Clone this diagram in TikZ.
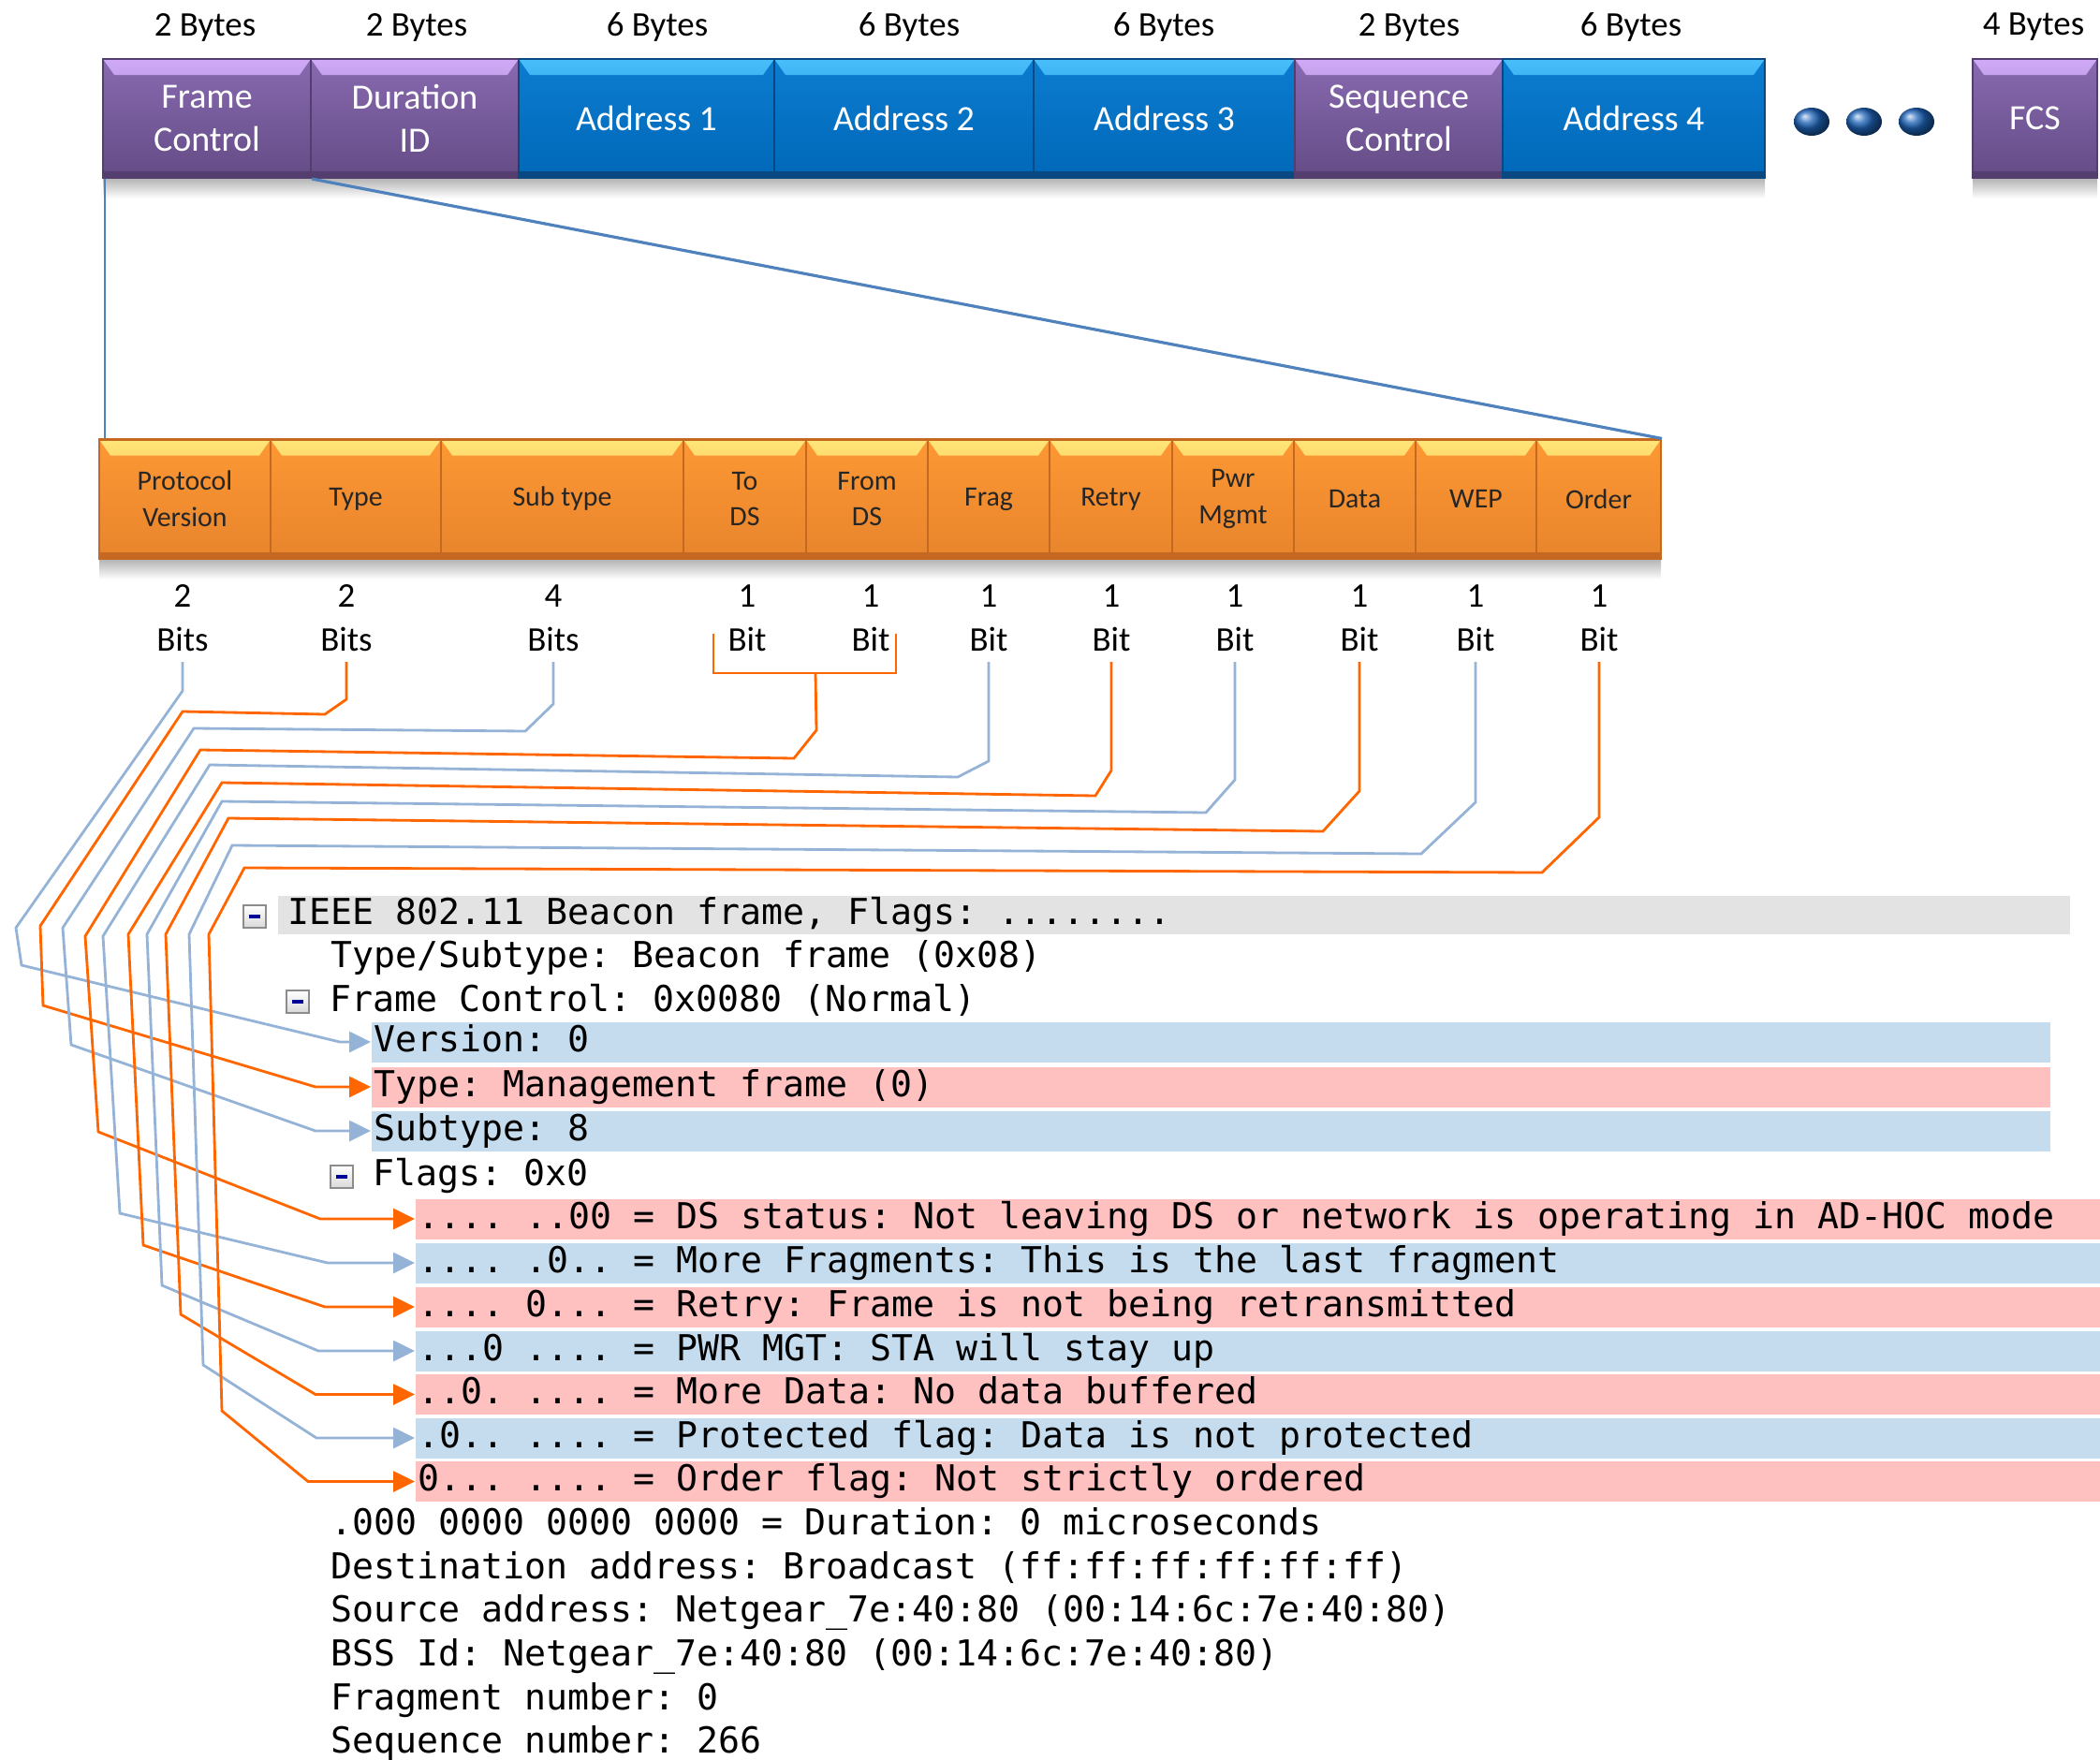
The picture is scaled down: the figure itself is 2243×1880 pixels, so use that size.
\documentclass[tikz,border=0pt]{standalone}
\usepackage{fontspec}
\setmainfont{Carlito}
\newfontfamily\wsmono{DejaVu Sans Mono}
\usepackage{tikz}
\usetikzlibrary{arrows.meta}
\usepackage{xcolor}
\definecolor{violaA}{RGB}{136,106,176}
\definecolor{violaB}{RGB}{100,76,134}
\definecolor{violaL}{RGB}{208,170,246}
\definecolor{violaD}{RGB}{84,62,112}
\definecolor{bluA}{RGB}{12,124,208}
\definecolor{bluB}{RGB}{0,104,184}
\definecolor{bluL}{RGB}{72,190,250}
\definecolor{bluD}{RGB}{10,72,130}
\definecolor{aranA}{RGB}{253,152,52}
\definecolor{aranB}{RGB}{232,132,44}
\definecolor{aranL}{RGB}{255,230,120}
\definecolor{aranD}{RGB}{196,104,34}
\definecolor{lineaBlu}{RGB}{149,179,215}
\definecolor{lineaAra}{RGB}{255,102,0}
\definecolor{lineaTop}{RGB}{79,129,189}
\definecolor{rosa}{RGB}{255,192,192}
\definecolor{azzurro}{RGB}{197,220,238}
\definecolor{grigio}{RGB}{227,227,227}
\definecolor{pallino}{RGB}{30,100,185}
\newcommand{\wsfont}{\wsmono\fontsize{10.87}{13}\selectfont\frenchspacing}
\newcommand{\meno}[2]{
\draw[draw = black!45, top color = white, bottom color = black!15] (#1-12,#2-12) rectangle (#1+12,#2+12);
\draw[line width = 1.2pt, blue!60!black] (#1-6,#2) -- (#1+6,#2);
}

\begin{document}
\begin{tikzpicture}[x = 0.1mm, y = -0.1mm,
    campo/.style n args = {4}{draw = #4, line width = 0.6pt, inner sep = 0pt, minimum height = 12.7mm, align = center,
        top color = #1, bottom color = #2,
        path picture = {
            \shade[top color = #3, bottom color = #1] (path picture bounding box.north west) -- (path picture bounding box.north east)
                -- ([xshift = -1.2mm, yshift = -1.7mm]path picture bounding box.north east)
                -- ([xshift = 1.2mm, yshift = -1.7mm]path picture bounding box.north west) -- cycle;
            \fill[#4] (path picture bounding box.south west) rectangle ([yshift = 0.7mm]path picture bounding box.south east);
        }},
    viola/.style = {campo = {violaA}{violaB}{violaL}{violaD}, text = white, font = \fontsize{10.8}{13}\selectfont},
    blu/.style = {campo = {bluA}{bluB}{bluL}{bluD}, text = white, font = \fontsize{10.8}{13}\selectfont},
    arancio/.style = {campo = {aranA}{aranB}{aranL}{aranD}, text = black!85, font = \fontsize{8.5}{11}\selectfont},
    byte/.style = {inner sep = 0pt, font = \fontsize{10.5}{12}\selectfont},
    bit/.style = {inner sep = 0pt, align = center, font = \fontsize{10.5}{13.4}\selectfont},
    barra/.style = {anchor = west, inner sep = 0pt, minimum height = 4.3mm},
    testo/.style = {anchor = west, inner sep = 0pt, text height = 2.9mm, text depth = 0.9mm, font = \wsfont},
    lblu/.style = {draw = lineaBlu, line width = 0.8pt},
    lara/.style = {draw = lineaAra, line width = 0.8pt},
    punta/.style = {-{Triangle[length = 2.3mm, width = 2.2mm]}}]
    % Parametri
    \pgfmathsetmacro{\yB}{126.5}
    \pgfmathsetmacro{\yO}{533}
    \pgfmathsetmacro{\yb}{660}
    \useasboundingbox (0,0) rectangle (2243,1880);
    % Ombre
    \shade[top color = black!30, bottom color = white] (110,190) rectangle (1885,212);
    \shade[top color = black!30, bottom color = white] (2107,190) rectangle (2240,212);
    \shade[top color = black!30, bottom color = white] (106,597) rectangle (1774,619);
    % Frame MAC
    \node[byte] (by-fc) at (219,29){2 Bytes};
    \node[byte] (by-dur) at (445,29){2 Bytes};
    \node[byte] (by-a1) at (702,29){6 Bytes};
    \node[byte] (by-a2) at (971,29){6 Bytes};
    \node[byte] (by-a3) at (1243,29){6 Bytes};
    \node[byte] (by-sc) at (1505,29){2 Bytes};
    \node[byte] (by-a4) at (1742,29){6 Bytes};
    \node[byte] (by-fcs) at (2172,29){4 Bytes};
    \node[viola, minimum width = 22.2mm] (fc) at (221,\yB){Frame\\Control};
    \node[viola, minimum width = 22.2mm] (dur) at (443,\yB){Duration\\ID};
    \node[blu, minimum width = 27.3mm] (a1) at (690.5,\yB){Address 1};
    \node[blu, minimum width = 27.7mm] (a2) at (965.5,\yB){Address 2};
    \node[blu, minimum width = 27.9mm] (a3) at (1243.5,\yB){Address 3};
    \node[viola, minimum width = 22.2mm] (sc) at (1494,\yB){Sequence\\Control};
    \node[blu, minimum width = 28mm] (a4) at (1745,\yB){Address 4};
    \node[viola, minimum width = 13.3mm] (fcs) at (2173.5,\yB){FCS};
    \shade[ball color = pallino] (1935,130) ellipse [x radius = 1.9mm, y radius = 1.5mm];
    \shade[ball color = pallino] (1991,130) ellipse [x radius = 1.9mm, y radius = 1.5mm];
    \shade[ball color = pallino] (2047,130) ellipse [x radius = 1.9mm, y radius = 1.5mm];
    % Campo Frame Control
    \node[arancio, minimum width = 18.3mm] (pv) at (197.5,\yO){Protocol\\Version};
    \node[arancio, minimum width = 18.2mm] (type) at (380,\yO){Type};
    \node[arancio, minimum width = 25.9mm] (sub) at (600.5,\yO){Sub type};
    \node[arancio, minimum width = 13.1mm] (tods) at (795.5,\yO){To\\DS};
    \node[arancio, minimum width = 13mm] (fromds) at (926,\yO){From\\DS};
    \node[arancio, minimum width = 13mm] (frag) at (1056,\yO){Frag};
    \node[arancio, minimum width = 13.1mm] (retry) at (1186.5,\yO){Retry};
    \node[arancio, minimum width = 13mm] (pwr) at (1317,\yO){Pwr\\Mgmt};
    \node[arancio, minimum width = 13mm] (data) at (1447,\yO){Data};
    \node[arancio, minimum width = 12.9mm] (wep) at (1576.5,\yO){WEP};
    \node[arancio, minimum width = 13.3mm] (order) at (1707.5,\yO){Order};
    \draw[lineaTop, line width = 0.6pt] ([xshift = 0.3mm]fc.south west) -- ([xshift = 0.3mm]fc.south west |- pv.north);
    \draw[lineaTop, line width = 0.9pt] (fc.south east) -- (order.north east);
    % Bit
    \node[bit] (b-pv) at (195,\yb){2\\Bits};
    \node[bit] (b-type) at (370,\yb){2\\Bits};
    \node[bit] (b-sub) at (591,\yb){4\\Bits};
    \node[bit] (b-tods) at (798,\yb){1\\Bit};
    \node[bit] (b-fromds) at (930,\yb){1\\Bit};
    \node[bit] (b-frag) at (1056,\yb){1\\Bit};
    \node[bit] (b-retry) at (1187,\yb){1\\Bit};
    \node[bit] (b-pwr) at (1319,\yb){1\\Bit};
    \node[bit] (b-data) at (1452,\yb){1\\Bit};
    \node[bit] (b-wep) at (1576,\yb){1\\Bit};
    \node[bit] (b-order) at (1708,\yb){1\\Bit};
    % Dissezione
    \node[barra, fill = grigio, minimum height = 4.1mm, minimum width = 191.4mm] (r-hdr) at (296,977){};
    \node[testo] (t-hdr) at ([xshift = 1.1mm]r-hdr.west){IEEE 802.11 Beacon frame, Flags: ........};
    \meno{272}{979}
    \node[testo] (t-tst) at (353,1023.6){Type/Subtype: Beacon frame (0x08)};
    \meno{318}{1070}
    \node[testo] (t-fc) at (352,1070.2){Frame Control: 0x0080 (Normal)};
    \node[barra, fill = azzurro, minimum width = 179.3mm] (r-ver) at (396,1113){};
    \node[testo] (t-ver) at ([xshift = 0.3mm]r-ver.west){Version: 0};
    \node[barra, fill = rosa, minimum width = 179.3mm] (r-type) at (396,1161){};
    \node[testo] (t-type) at ([xshift = 0.3mm]r-type.west){Type: Management frame (0)};
    \node[barra, fill = azzurro, minimum width = 179.3mm] (r-sub) at (396,1208){};
    \node[testo] (t-sub) at ([xshift = 0.3mm]r-sub.west){Subtype: 8};
    \meno{365}{1257}
    \node[testo] (t-flg) at (398,1256.6){Flags: 0x0};
    \node[barra, fill = rosa, minimum width = 180mm] (r-ds) at (443,1302){};
    \node[testo] (t-ds) at ([xshift = 0.3mm]r-ds.west){.... ..00 = DS status: Not leaving DS or network is operating in AD-HOC mode};
    \node[barra, fill = azzurro, minimum width = 180mm] (r-frag) at (443,1349){};
    \node[testo] (t-frag) at ([xshift = 0.3mm]r-frag.west){.... .0.. = More Fragments: This is the last fragment};
    \node[barra, fill = rosa, minimum width = 180mm] (r-retry) at (443,1396){};
    \node[testo] (t-retry) at ([xshift = 0.3mm]r-retry.west){.... 0... = Retry: Frame is not being retransmitted};
    \node[barra, fill = azzurro, minimum width = 180mm] (r-pwr) at (443,1443){};
    \node[testo] (t-pwr) at ([xshift = 0.3mm]r-pwr.west){...0 .... = PWR MGT: STA will stay up};
    \node[barra, fill = rosa, minimum width = 180mm] (r-data) at (443,1489.5){};
    \node[testo] (t-data) at ([xshift = 0.3mm]r-data.west){..0. .... = More Data: No data buffered};
    \node[barra, fill = azzurro, minimum width = 180mm] (r-prot) at (443,1536){};
    \node[testo] (t-prot) at ([xshift = 0.3mm]r-prot.west){.0.. .... = Protected flag: Data is not protected};
    \node[barra, fill = rosa, minimum width = 180mm] (r-order) at (443,1582.5){};
    \node[testo] (t-order) at ([xshift = 0.3mm]r-order.west){0... .... = Order flag: Not strictly ordered};
    \node[testo] (t-dur) at (353,1629){.000 0000 0000 0000 = Duration: 0 microseconds};
    \node[testo] (t-dst) at (353,1676){Destination address: Broadcast (ff:ff:ff:ff:ff:ff)};
    \node[testo] (t-src) at (353,1722.5){Source address: Netgear\_7e:40:80 (00:14:6c:7e:40:80)};
    \node[testo] (t-bss) at (353,1769){BSS Id: Netgear\_7e:40:80 (00:14:6c:7e:40:80)};
    \node[testo] (t-frn) at (353,1816){Fragment number: 0};
    \node[testo] (t-seq) at (353,1862){Sequence number: 266};
    % Collegamenti
    \draw[lblu, punta] (b-pv |- 0,707) -- (b-pv |- 0,738) -- (17,991) -- (23,1031) -- (r-ver.west -| 363,0) -- (r-ver.west);
    \draw[lara, punta] (b-type |- 0,707) -- (b-type |- 0,747) -- (347,763) -- (195,760) -- (43,989) -- (46,1074) -- (r-type.west -| 337,0) -- (r-type.west);
    \draw[lblu, punta] (b-sub |- 0,707) -- (b-sub |- 0,752) -- (561,781) -- (207,778) -- (67,991) -- (76,1116) -- (r-sub.west -| 337,0) -- (r-sub.west);
    \draw[lara] (762,677) -- (762,719) -- (957,719) -- (957,677);
    \coordinate (ds-m) at (871,719);
    \draw[lara, punta] (ds-m) -- (872,780) -- (848,810) -- (214,801) -- (91,1000) -- (105,1209) -- (r-ds.west -| 342,0) -- (r-ds.west);
    \draw[lblu, punta] (b-frag |- 0,707) -- (b-frag |- 0,813) -- (1023,830) -- (224,817) -- (110,1000) -- (128,1296) -- (r-frag.west -| 350,0) -- (r-frag.west);
    \draw[lara, punta] (b-retry |- 0,707) -- (b-retry |- 0,823) -- (1170,850) -- (237,836) -- (137,998) -- (153,1330) -- (r-retry.west -| 347,0) -- (r-retry.west);
    \draw[lblu, punta] (b-pwr |- 0,707) -- (b-pwr |- 0,833) -- (1288,868) -- (237,856) -- (157,998) -- (173,1373) -- (r-pwr.west -| 340,0) -- (r-pwr.west);
    \draw[lara, punta] (b-data |- 0,707) -- (b-data |- 0,845) -- (1413,888) -- (244,874) -- (177,998) -- (193,1404) -- (r-data.west -| 337,0) -- (r-data.west);
    \draw[lblu, punta] (b-wep |- 0,707) -- (b-wep |- 0,857) -- (1518,912) -- (248,903) -- (202,998) -- (217,1458) -- (r-prot.west -| 338,0) -- (r-prot.west);
    \draw[lara, punta] (b-order |- 0,707) -- (b-order |- 0,873) -- (1647,932) -- (261,927) -- (223,998) -- (237,1507) -- (r-order.west -| 329,0) -- (r-order.west);
\end{tikzpicture}
\end{document}
